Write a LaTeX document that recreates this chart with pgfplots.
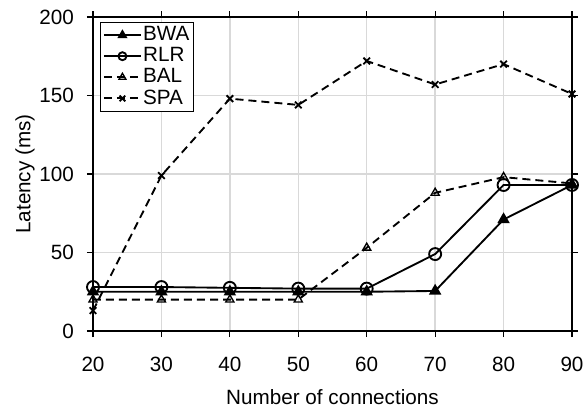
\documentclass[border=0pt]{standalone}
\usepackage{fontspec}
\setmainfont{Liberation Sans}
\usepackage{pgfplots}
\pgfplotsset{compat=1.18}

\begin{document}
\fontsize{15.5pt}{18pt}\selectfont
\begin{tikzpicture}
  \begin{axis}[
      at={(0,0)}, anchor=south west,
      scale only axis,
      width=359.25pt,
      height=235.5pt,
      xmin=20, xmax=90,
      ymin=0, ymax=200,
      xtick={20,30,...,90},
      ytick={0,50,...,200},
      grid=major,
      grid style={line width=1.1pt, draw=black!15},
      axis line style={line width=0.8pt},
      tick style={black, line width=0.8pt},
      tick align=outside,
      major tick length=4.5pt,
      xlabel={Number of connections},
      ylabel={Latency (ms)},
      xlabel style={at={(axis description cs:0.5,0)}, anchor=center, yshift=-49.5pt},
      ylabel style={at={(axis description cs:0,0.5)}, anchor=center, yshift=51pt},
      /pgf/number format/assume math mode=true,
      tick label style={font=\fontsize{15.5pt}{18pt}\selectfont},
      xticklabel style={yshift=-10pt},
      yticklabel style={xshift=-4.5pt},
      label style={font=\fontsize{15.5pt}{18pt}\selectfont},
      legend cell align=left,
      legend style={at={(axis cs:21.0,196.8)}, anchor=north west, draw=black, line width=0.7pt,
                    row sep=-1.2pt, inner xsep=2pt, inner ysep=1pt,
                    nodes={inner xsep=1pt, font=\fontsize{15.5pt}{18pt}\selectfont}},
      legend image code/.code={%
        \draw[mark repeat=2, mark phase=2] plot coordinates {(0pt,0pt) (13.9pt,0pt) (27.75pt,0pt)};},
      every legend image post/.style={mark size=3pt},
      every axis plot/.append style={line width=1.4pt, black},
      dashpat/.style={dash pattern=on 6pt off 3.75pt},
    ]
    \addplot[mark=triangle*, mark size=4pt, mark options={solid, fill=black}] coordinates {
      (20,25) (30,25) (40,25) (50,25) (60,25) (70,25.5) (80,71) (90,93)
    };
    \addlegendentry{BWA}
    \addplot[mark=o, mark size=4.5pt, mark options={solid, fill=white}] coordinates {
      (20,28) (30,28) (40,27.5) (50,27) (60,27) (70,49) (80,93) (90,93)
    };
    \addlegendentry{RLR}
    \addplot[dashpat, mark=triangle, mark size=3.5pt, mark options={solid, line width=1pt}] coordinates {
      (20,20) (30,20) (40,20) (50,20) (60,53) (70,88) (80,98) (90,94)
    };
    \addlegendentry{BAL}
    \addplot[dashpat, mark=x, mark size=3.5pt, mark options={solid}] coordinates {
      (20,13) (30,99) (40,148) (50,144) (60,172) (70,157) (80,170) (90,151)
    };
    \addlegendentry{SPA}
  \end{axis}
  \pgfresetboundingbox
  \useasboundingbox (-69.75pt,-57.75pt) rectangle (369.75pt,248.25pt);
\end{tikzpicture}
\end{document}
